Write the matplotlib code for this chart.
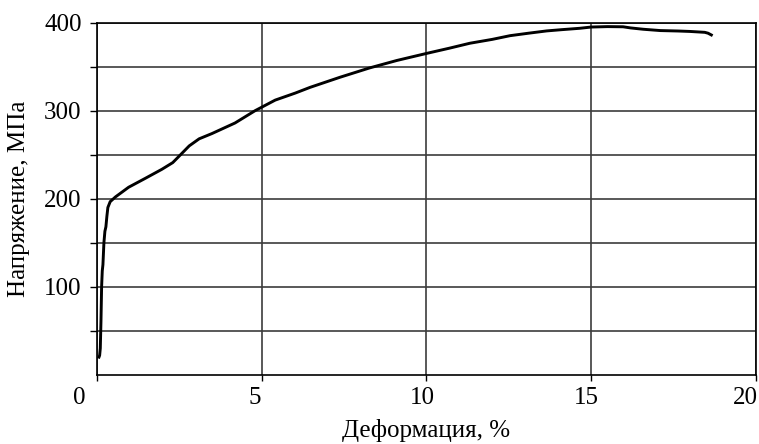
import matplotlib.pyplot as plt
import matplotlib.transforms as mtransforms

plt.rcParams['font.family'] = ['Liberation Serif', 'DejaVu Serif']

# strain, % / stress, MPa
strain = [0.06, 0.08, 0.10, 0.12, 0.14, 0.16, 0.18, 0.21, 0.24, 0.27, 0.30,
          0.33, 0.40, 0.56, 0.96, 1.46, 1.97, 2.30, 2.53, 2.80, 3.10, 3.49,
          4.19, 4.80, 5.41, 6.02, 6.47, 7.38, 8.27, 9.10, 10.0, 10.7, 11.32,
          12.0, 12.54, 13.1, 13.65, 14.1, 14.66, 15.0, 15.5, 15.97, 16.2,
          16.58, 17.1, 17.64, 18.0, 18.45, 18.55, 18.65]
stress = [20, 22, 30, 60, 100, 118, 125, 150, 163, 168, 180,
          190, 196.6, 202, 213, 223, 233.4, 241, 249.7, 260, 268, 274,
          286, 300, 312, 320, 326.5, 338, 348.5, 357, 365, 371, 376.6,
          381, 385.2, 388, 390.6, 392, 393.6, 395, 395.5, 395.3, 394,
          392.5, 391, 390.5, 390, 389, 388, 386]

xticks = [0, 5, 10, 15, 20]
xtick_labels = ['0', '5', '10', '15', '20']
yticks = [100, 200, 300, 400]
ygrid = [50, 100, 150, 200, 250, 300, 350, 400]

fig = plt.figure(figsize=(7.59, 4.44), dpi=100)
ax = fig.add_axes([0.1278, 0.156, 0.868, 0.793])

ax.plot(strain, stress, color='black', lw=2.1, solid_joinstyle='round')

ax.set_xlim(0, 20)
ax.set_ylim(0, 400)
ax.set_xticks(xticks, xtick_labels)
ax.set_yticks(yticks)
ax.set_yticks(ygrid, minor=True)
ax.grid(True, which='both', color='#3c3c3c', lw=1.2)
ax.set_axisbelow(True)

ax.tick_params(axis='y', which='both', direction='out', length=5, width=1,
               labelsize=18, pad=6)
ax.tick_params(axis='x', direction='out', length=4, width=1,
               labelsize=18, pad=5)

# tick labels sit a little left of their gridlines in the original
shifts = [-18, -7, -4, -5, -10]
for lab, dx in zip(ax.get_xticklabels(), shifts):
    lab.set_transform(lab.get_transform() +
                      mtransforms.ScaledTranslation(dx / 100, 0, fig.dpi_scale_trans))

for s in ax.spines.values():
    s.set_color('black')
    s.set_linewidth(1.2)

ax.set_xlabel('Деформация, %', fontsize=18)
ax.set_ylabel('Напряжение, МПа', fontsize=18)
ax.xaxis.set_label_coords(0.5, -0.126)
ax.yaxis.set_label_coords(-0.102, 0.5)

fig.savefig('out.png', dpi=100)
